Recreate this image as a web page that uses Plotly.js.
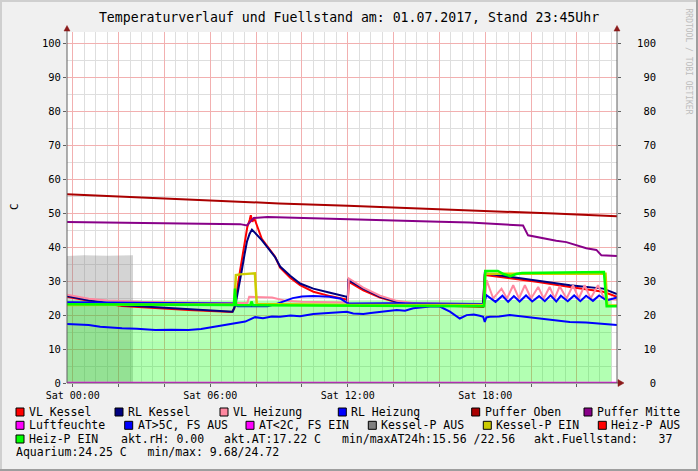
<!DOCTYPE html>
<html><head><meta charset="utf-8">
<script src="https://cdn.plot.ly/plotly-3.0.1.min.js"></script>
<style>html,body{margin:0;padding:0;background:#f0f0f0;}#chart{width:698px;height:471px;}</style>
</head><body><div id="chart"></div>
<script>
// ---------------- data (hours relative to Sat 01.07.2017 00:00) ----------------
const titleText = "Temperaturverlauf und Fuellstand am: 01.07.2017, Stand 23:45Uhr";
const xTickHours = [0,2,4,6,8,10,12,14,16,18,20,22];
const xTickText  = ["Sat 00:00","","","Sat 06:00","","","Sat 12:00","","","Sat 18:00","",""];
const yTickVals  = [0,10,20,30,40,50,60,70,80,90,100];
const yTickText  = ["0","10","20","30","40","50","60","70","80","90","100"];
const yTitle = "C";
const watermark = "RRDTOOL / TOBI OETIKER";

const grayAreaT = [-0.25,0.5,1.5,2.63];
const grayAreaV = [37.4,37.6,37.5,37.6];

const aquaT = [-0.25,3,6,8.98,9.05,9.12,12,15,18,21,23.5];
const aquaV = [24.4,24.3,24.2,24.3,null,24.3,24.4,24.4,24.4,24.5,24.5];

const vlKesselT = [-0.25,0.7,2.15,3.6,5.05,6.95,7.05,7.3,7.45,7.62,7.72,7.77,7.84,7.92,8.25,8.83,9.05,9.49,9.92,10.5,11.23,11.96,12.0,12.05,12.68,13.41,14.14,14.86,16,17.9,17.98,18.8,20.24,21.7,23.15,23.75];
const vlKesselV = [25.4,24.2,22.7,22.0,21.5,20.9,22.0,33.0,39.1,46.0,48.0,49.4,47.5,48.6,42.5,37.2,34.0,31.0,28.8,26.9,25.6,24.6,23.5,29.8,27.3,25.2,23.8,23.3,22.8,22.4,31.8,31.1,29.8,28.3,26.9,25.4];

const rlKesselT = [-0.25,0.7,2.15,3.6,5.05,6.98,7.1,7.22,7.38,7.5,7.6,7.72,7.82,8.25,8.83,9.05,9.49,9.92,10.5,11.23,11.96,11.99,12.03,12.68,13.41,14.14,14.86,16,17.9,17.98,18.8,20.24,21.7,23.15,23.75];
const rlKesselV = [25.6,24.4,22.9,22.3,21.7,21.0,23.0,28.0,33.3,38.0,41.6,44.0,45.2,42.1,37.1,34.3,31.6,29.3,27.8,26.6,25.4,23.5,30.3,27.8,25.4,23.9,23.4,23.0,22.6,32.3,31.5,30.3,28.8,27.8,26.2];

const vlHeizT = [-0.25,0.7,1.5,3,6,7.1,7.62,7.7,8.0,8.7,9.3,10,11.9,12.0,12.05,12.68,13.41,14.14,14.86,16,17.9,17.98,18.06,18.35,18.71,18.95,19.22,19.47,19.73,20.0,20.31,20.55,20.81,21.03,21.25,21.55,21.83,22.08,22.34,22.6,22.92,23.2,23.75];
const vlHeizV = [26.0,24.8,24.3,23.9,23.6,23.5,23.6,25.4,25.3,25.2,24.2,23.9,23.7,24.0,30.8,28.1,25.7,24.2,23.6,23.4,23.2,24.0,30.3,24.9,27.8,24.9,28.8,24.9,28.8,24.9,28.3,24.9,28.3,24.9,28.5,24.9,28.8,24.9,28.8,24.9,28.8,24.8,24.5];

const rlHeizT = [-0.25,3,6,7.0,7.2,8.5,8.9,9.2,9.6,10.0,10.5,11.2,11.7,12.0,12.2,14,16,17.95,18.05,18.45,18.75,19.0,19.25,19.5,19.78,20.05,20.35,20.6,20.85,21.1,21.3,21.6,21.88,22.15,22.4,22.7,22.97,23.3,23.75];
const rlHeizV = [23.8,23.6,23.5,23.4,22.6,22.6,23.3,24.0,25.0,25.5,25.6,25.4,24.8,23.5,23.4,23.5,23.5,23.3,25.9,23.9,25.7,23.9,25.6,24.0,25.8,24.0,25.6,24.1,25.8,24.0,25.7,24.1,25.8,24.1,25.7,24.2,25.8,24.3,25.2];

const pufferObenT = [-0.25,3,6,9,12,15,18,21,23.75];
const pufferObenV = [55.6,54.6,53.7,52.9,52.2,51.5,50.8,49.9,49.1];

const pufferMitteT = [-0.25,3,6,7.3,7.6,7.9,8.5,10,12,14,16,17.33,18.2,19.07,19.65,19.87,20.24,20.67,21.1,21.54,21.98,22.41,22.85,23.07,23.75];
const pufferMitteV = [47.4,47.2,47.0,46.8,46.4,48.6,48.9,48.6,48.1,47.8,47.5,47.3,47.0,46.7,46.4,43.5,43.0,42.3,41.9,41.5,40.5,39.7,39.2,37.6,37.4];

const rhT = [-0.25,23.75];
const rhV = [0,0];

const atT = [-0.25,0.3,0.7,1.2,2.15,2.8,3.6,4.3,5.05,5.6,6.22,6.7,7.09,7.53,7.96,8.3,8.69,9.05,9.5,9.92,10.5,11.23,11.96,12.24,12.68,13.0,13.41,14.14,14.5,14.86,15.59,16.02,16.46,16.75,16.89,17.19,17.5,17.76,17.91,17.98,18.05,18.2,18.6,19.07,19.6,20.24,20.9,21.69,22.4,23.14,23.75];
const atV = [17.4,17.2,17.1,16.6,16.1,16.0,15.6,15.7,15.6,15.9,16.6,17.0,17.6,18.1,19.4,19.1,19.6,19.5,19.9,19.7,20.3,20.7,21.0,20.5,20.3,20.6,21.0,21.5,21.3,22.0,22.5,22.5,21.0,19.5,19.0,20.0,20.2,19.8,19.5,18.0,19.3,19.5,19.6,20.0,19.6,19.0,18.6,18.0,17.8,17.4,17.1];

const kpEinT = [-0.25,7.05,7.12,7.3,7.95,8.03,12,17.95,18.0,23.25,23.32,23.75];
const kpEinV = [23.0,23.2,31.8,32.0,32.3,23.3,23.0,23.0,32.2,32.2,22.8,22.8];

const hpEinT = [-0.25,7.03,7.08,7.13,7.2,7.75,7.8,7.86,17.95,18.0,18.55,18.8,19.1,19.35,19.6,21.5,23.18,23.3,23.75];
const hpEinV = [23.2,23.0,27.8,23.0,22.9,22.9,24.0,22.9,22.6,33.0,33.0,32.1,31.5,32.1,32.4,32.5,32.7,22.6,22.6];

const legendRow1 = ["VL Kessel","RL Kessel","VL Heizung","RL Heizung","Puffer Oben","Puffer Mitte"];
const legendRow1Colors = ["#ff0000","#000080","#ff88a0","#0000ff","#aa0000","#880088"];
const legendRow2 = ["Luftfeuchte","AT>5C, FS AUS","AT<2C, FS EIN","Kessel-P AUS","Kessel-P EIN","Heiz-P AUS"];
const legendRow2Colors = ["#ff00ff","#0000ff","#ff00ff","#808080","#cccc00","#ff0000"];
const legendRow3 = ["Heiz-P EIN"];
const legendRow3Colors = ["#00ff00"];
const infoRow3 = ["akt.rH: 0.00","akt.AT:17.22 C","min/maxAT24h:15.56 /22.56","akt.Fuellstand:   37"];
const infoRow4 = ["Aquarium:24.25 C   min/max: 9.68/24.72"];

// ---------------- layout helpers (styles / positions) ----------------
const X0=67, X1=617, Y0=383, Y1=32;
const px = x => (x - X0)/(X1 - X0);
const py = y => (Y0 - y)/(Y0 - Y1);
const FONT = "DejaVu Sans Mono";
function toDate(h){
  const d = new Date(Date.UTC(2017,6,1) + Math.round(h*3600000));
  return d.toISOString().slice(0,19).replace('T',' ');
}
function esc(s){ return s.replace(/&/g,'&amp;').replace(/</g,'&lt;').replace(/>/g,'&gt;').replace(/ /g,'\u00a0'); }
function pad(s,n){ while(s.length<n) s='\u00a0'+s; return s; }

function lineTrace(t,v,color,width,yax){
  return {x:t.map(toDate), y:v, type:'scatter', mode:'lines', yaxis:yax||'y',
          line:{color:color,width:width}, hoverinfo:'skip', showlegend:false, connectgaps:false};
}
const traces = [
  {x:grayAreaT.map(toDate), y:grayAreaV, type:'scatter', mode:'lines', fill:'tozeroy',
   fillcolor:'rgba(128,128,128,0.34)', line:{width:0,color:'rgba(0,0,0,0)'}, hoverinfo:'skip', showlegend:false},
  {x:aquaT.map(toDate), y:aquaV, type:'scatter', mode:'lines', fill:'tozeroy', connectgaps:false,
   fillcolor:'rgba(0,255,0,0.3)', line:{width:0,color:'rgba(0,0,0,0)'}, hoverinfo:'skip', showlegend:false},
  lineTrace(vlKesselT, vlKesselV, "#ff0000", 2),
  lineTrace(rlKesselT, rlKesselV, "#000080", 2),
  lineTrace(vlHeizT, vlHeizV, "#ff88a0", 2),
  lineTrace(rlHeizT, rlHeizV, "#0000ff", 2),
  lineTrace(pufferObenT, pufferObenV, "#aa0000", 2),
  lineTrace(pufferMitteT, pufferMitteV, "#880088", 2),
  lineTrace(atT, atV, "#0000ff", 2),
  lineTrace(kpEinT, kpEinV, "#cccc00", 2.5),
  lineTrace(hpEinT, hpEinV, "#00ff00", 2.5),
  lineTrace(rhT, rhV, "#ff00ff", 2.5, 'y2')
];

const shapes = [];
const annotations = [];
const AX = '#606060', ARROW = '#8b1a1a';
function seg(x0,y0,x1,y1,color,w){ shapes.push({type:'line',xref:'paper',yref:'paper',x0:px(x0),y0:py(y0),x1:px(x1),y1:py(y1),line:{color:color,width:w}}); }
function tri(pts,color){
  const d = 'M' + pts.map(p=>px(p[0])+','+py(p[1])).join(' L') + ' Z';
  shapes.push({type:'path',xref:'paper',yref:'paper',path:d,fillcolor:color,line:{color:color,width:0.5}});
}
// frame
seg(0,1,698,1,'#cfcfcf',2); seg(1,0,1,471,'#cfcfcf',2);
seg(0,470,698,470,'#9e9e9e',2); seg(697,0,697,471,'#9e9e9e',2);
// axes
seg(67,383,620,383,AX,1);
seg(67,383,67,29,AX,1);
seg(617,383,617,29,AX,1);
tri([[618,379.5],[624,383],[618,386.5]],ARROW);
tri([[64,31],[67,25.5],[70,31]],ARROW);
tri([[614,31],[617,25.5],[620,31]],ARROW);

function legendBox(x,yc,color){
  shapes.push({type:'rect',xref:'paper',yref:'paper',x0:px(x),x1:px(x+8),y0:py(yc+4),y1:py(yc-4),
    fillcolor:color,line:{color:'#000',width:1}});
}
function text(x,y,s,opts){
  annotations.push(Object.assign({xref:'paper',yref:'paper',x:px(x),y:py(y),text:esc(s),showarrow:false,
    xanchor:'left',yanchor:'middle',borderpad:0,borderwidth:0,font:{family:FONT,size:11.5,color:'#000'}},opts||{}));
}
const row1X=[16,115,220,338.3,471.7,584];
const row2X=[16,124.7,246,368.3,483.3,598.3];
legendRow1.forEach((n,i)=>{legendBox(row1X[i],412,legendRow1Colors[i]); text(row1X[i]+13,411.5,n);});
legendRow2.forEach((n,i)=>{legendBox(row2X[i],425.3,legendRow2Colors[i]); text(row2X[i]+13,425,n);});
legendRow3.forEach((n,i)=>{legendBox(16,439,legendRow3Colors[i]); text(29,438.7,n);});
const info3X=[120.5,224.3,341.5,533.8];
infoRow3.forEach((s,i)=>text(info3X[i],438.7,s));
text(15.5,452.4,infoRow4[0]);

// y-axis title and watermark
text(14,207,yTitle,{xanchor:'center',textangle:-90,font:{family:FONT,size:11,color:'#000'}});
text(687.5,61,watermark,{xanchor:'center',textangle:90,font:{family:FONT,size:8,color:'#bdbdbd'}});

const MAJ='#f2b0b0', MIN='#dedede';
const layout = {
  width:698, height:471,
  margin:{l:67,r:81,t:32,b:88,pad:0},
  paper_bgcolor:'#f0f0f0', plot_bgcolor:'#ffffff',
  showlegend:false,
  title:{text:titleText, font:{family:FONT,size:13.2,color:'#000'}, x:0.5, xref:'container', xanchor:'center',
         y:1-17/471, yref:'container', yanchor:'middle'},
  xaxis:{type:'date', range:[toDate(-0.25),toDate(23.75)], tickmode:'array',
    tickvals:xTickHours.map(toDate), ticktext:xTickText,
    showgrid:true, gridcolor:MAJ, gridwidth:1, zeroline:false, showline:false,
    ticks:'outside', ticklen:3, tickcolor:AX, tickfont:{family:FONT,size:10,color:'#000'},
    minor:{tickmode:'linear', tick0:toDate(0), dtick:1800000, showgrid:true, gridcolor:MIN, gridwidth:1, ticks:''},
    fixedrange:true},
  yaxis:{range:[0,103.4], tickmode:'array', tickvals:yTickVals, ticktext:yTickText,
    showgrid:true, gridcolor:MAJ, gridwidth:1, zeroline:false, showline:false,
    ticks:'outside', ticklen:3, tickcolor:AX, tickfont:{family:FONT,size:10.5,color:'#000'},
    minor:{tickmode:'linear', tick0:0, dtick:5, showgrid:true, gridcolor:MIN, gridwidth:1, ticks:''},
    fixedrange:true},
  yaxis2:{range:[0,103.4], overlaying:'y', side:'right', tickmode:'array', tickvals:yTickVals,
    ticktext:yTickText.map(s=>pad(s,3)), showgrid:false, zeroline:false, showline:false,
    ticks:'outside', ticklen:3, tickcolor:AX, ticklabelstandoff:14,
    tickfont:{family:FONT,size:10.5,color:'#000'}, fixedrange:true},
  shapes:shapes, annotations:annotations
};
Plotly.newPlot('chart', traces, layout, {staticPlot:true, displayModeBar:false});
</script></body></html>
